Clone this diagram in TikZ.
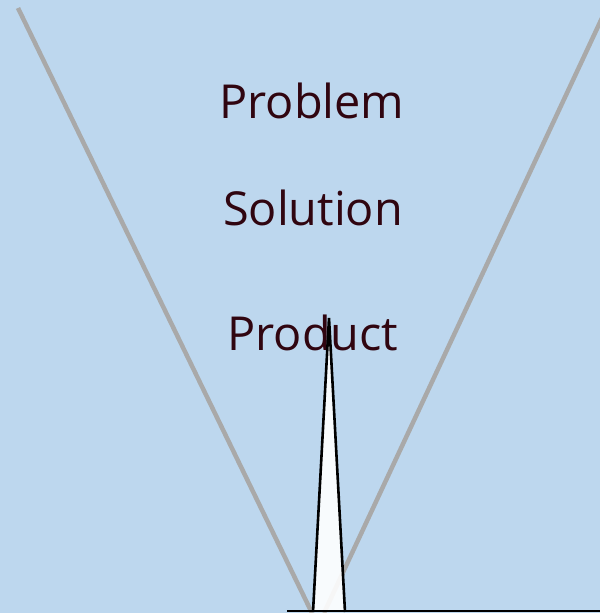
\documentclass[tikz,border=0pt]{standalone}
\usepackage{fontspec}
\setmainfont{Open Sans}
\definecolor{bgc}{HTML}{BDD7EE}
\definecolor{txt}{HTML}{300510}
\definecolor{gline}{HTML}{A9A9A9}
\begin{document}
\begin{tikzpicture}[x=1bp,y=-1bp,
  lbl/.style={text=txt,font=\fontsize{47}{52}\selectfont,inner sep=0pt},
  vline/.style={draw=gline,line width=4.5bp},
  spike/.style={draw=black,line width=2.6bp,fill=white,fill opacity=0.9,line join=miter}]
\fill[bgc] (0,0) rectangle (600,613);
\useasboundingbox (0,0) rectangle (600,613);
\coordinate (lt) at (18,8);
\coordinate (lb) at (312,613);
\coordinate (rt) at (602,18);
\coordinate (rb) at (324,613);
\draw[vline] (lt) -- (lb);
\draw[vline] (rt) -- (rb);
\node[lbl] (problem) at (312,101) {Problem};
\node[lbl] (solution) at (313,208) {Solution};
\node[lbl] (product) at (313,333) {Product};
\coordinate (a) at (313,612);
\coordinate (b) at (329,318);
\coordinate (c) at (345,612);
\coordinate (e1) at (287,611);
\coordinate (e2) at (600,611);
\draw[spike] (a) -- (b) -- (c);
\draw[black,line width=2.6bp] (e1) -- (e2);
\end{tikzpicture}
\end{document}
